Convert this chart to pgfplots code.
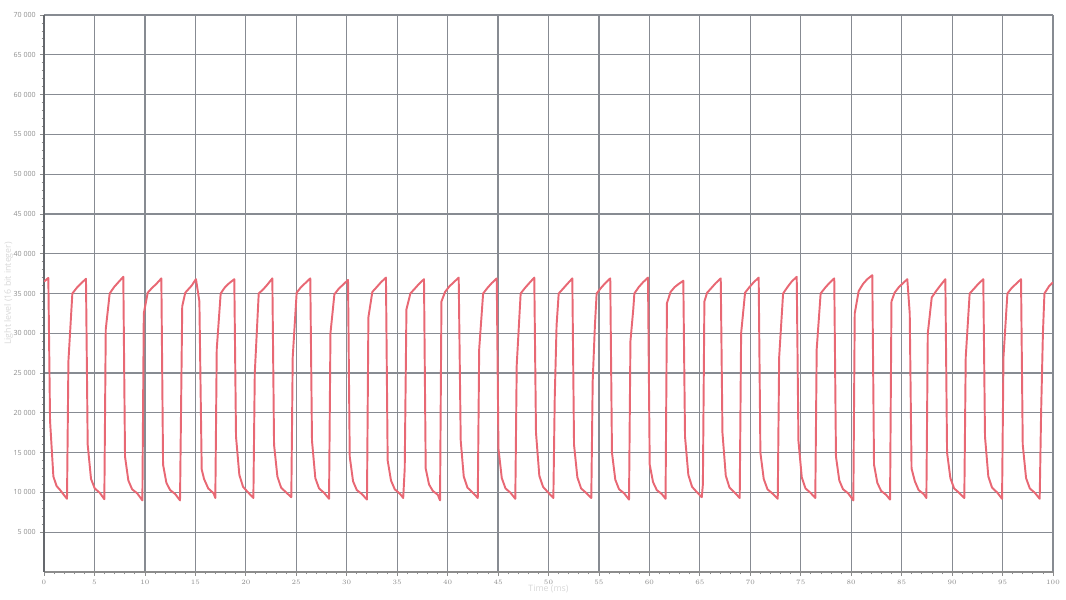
\documentclass[border=0pt]{standalone}
\usepackage{pgfplots}
\pgfplotsset{compat=1.18}
\usepackage{fontspec}
\setmainfont{Open Sans}
\definecolor{linered}{RGB}{232,104,116}
\definecolor{gridc}{RGB}{135,139,146}
\definecolor{tickc}{RGB}{140,140,140}
\definecolor{labc}{RGB}{215,215,215}
\begin{document}
\begin{tikzpicture}
\begin{axis}[
  scale only axis, width=756.75pt, height=417.75pt,
  xmin=0, xmax=100, ymin=0, ymax=70000,
  axis x line*=bottom, axis y line*=left,
  x axis line style={draw=tickc, line width=0.8pt},
  y axis line style={draw=gridc!75!black, line width=1.2pt},
  xtick={0,5,...,100},
  ytick={5000,10000,15000,20000,25000,30000,35000,40000,45000,50000,55000,60000,65000,70000},
  yticklabels={5 000,10 000,15 000,20 000,25 000,30 000,35 000,40 000,45 000,50 000,55 000,60 000,65 000,70 000},
  minor x tick num=4, minor y tick num=4,
  tick align=outside, major tick length=3pt, minor tick length=1.8pt,
  tick style={draw=tickc, line width=0.6pt},
  grid=major, major grid style={draw=gridc, line width=0.9pt},
  minor grid style={draw=none},
  ticklabel style={font=\fontsize{5.3}{6}\selectfont, text=tickc},
  xticklabel style={yshift=0.3pt},
  yticklabel style={xshift=0.3pt},
  xlabel={Time (ms)}, ylabel={Light level (16 bit integer)},
  label style={font=\fontsize{6.6}{8}\selectfont, text=labc},
  xlabel style={at={(axis description cs:0.5,-0.0311)}, anchor=center},
  ylabel style={at={(axis description cs:-0.0350,0.5)}, anchor=center},
]
\addplot[linered, line width=1.45pt, line join=round, mark=none] coordinates {
(0,36500) (0.43,36950) (0.6,19000) (0.93,12000) (1.25,10800) (1.6,10300) (1.9,9800)
(2.28,9200) (2.42,26500) (2.81,35000) (3.24,35700) (3.66,36250) (4.16,36850) (4.33,16000) (4.66,11700) (5.03,10500) (5.53,9950)
(5.98,9150) (6.12,30500) (6.51,35000) (6.94,35800) (7.36,36400) (7.86,37100) (8.03,14500) (8.36,11500) (8.73,10400) (9.23,9900)
(9.75,9000) (9.89,32500) (10.28,35100) (10.71,35700) (11.13,36200) (11.63,36900) (11.8,13500) (12.13,11200) (12.5,10300) (13.0,9800)
(13.48,9000) (13.7,33400) (14.0,35100) (14.64,36000) (15.06,36800) (15.4,34000) (15.63,12900) (15.86,11700) (16.28,10500) (16.8,9900)
(16.98,9300) (17.12,28000) (17.51,35000) (17.94,35800) (18.36,36300) (18.86,36800) (19.03,17000) (19.36,12200) (19.73,10700) (20.23,10000)
(20.75,9300) (20.89,25000) (21.28,35000) (21.71,35500) (22.13,36100) (22.63,36900) (22.8,16000) (23.13,12000) (23.5,10600) (24.0,10000)
(24.51,9400) (24.65,27000) (25.04,35100) (25.47,35800) (25.89,36300) (26.39,36900) (26.56,16500) (26.89,11800) (27.26,10500) (27.76,9950)
(28.25,9200) (28.39,30000) (28.78,34900) (29.21,35600) (29.63,36100) (30.13,36700) (30.3,14500) (30.63,11400) (31.0,10300) (31.5,9800)
(32.01,9100) (32.15,32000) (32.54,35200) (32.97,35800) (33.39,36400) (33.89,37000) (34.06,14000) (34.39,11500) (34.76,10400) (35.26,9850)
(35.6,9300) (35.75,13000) (35.92,33000) (36.31,35000) (36.74,35600) (37.16,36200) (37.66,36800) (37.83,13000) (38.16,11000) (38.53,10200) (39.03,9700)
(39.25,9000) (39.39,34000) (39.75,35200) (40.18,35900) (40.6,36400) (41.1,37000) (41.3,16500) (41.6,12000) (41.97,10600) (42.47,10000)
(42.99,9300) (43.13,28000) (43.52,35000) (43.95,35700) (44.37,36300) (44.87,36900) (45.04,15500) (45.37,11800) (45.74,10500) (46.24,9950)
(46.71,9200) (46.85,26000) (47.24,35000) (47.67,35700) (48.09,36300) (48.59,37000) (48.76,17500) (49.09,12100) (49.46,10700) (49.96,10000)
(50.48,9300) (50.62,22000) (50.8,31000) (51.01,35000) (51.44,35600) (51.86,36200) (52.36,36900) (52.53,16000) (52.86,11900) (53.23,10500) (53.73,9950)
(54.24,9300) (54.38,24000) (54.6,31000) (54.77,35000) (55.2,35700) (55.62,36300) (56.12,36900) (56.29,15000) (56.62,11600) (56.99,10400) (57.49,9900)
(57.98,9100) (58.12,29000) (58.4,33000) (58.51,35000) (58.94,35800) (59.36,36400) (59.86,37000) (60.03,13500) (60.36,11300) (60.73,10300) (61.23,9800)
(61.6,9200) (61.74,33800) (62.1,35200) (62.5,35800) (62.9,36200) (63.36,36600) (63.53,17000) (63.86,12200) (64.23,10700) (64.73,10000)
(65.19,9400) (65.3,11000) (65.45,34000) (65.72,35100) (66.15,35700) (66.57,36300) (67.07,36900) (67.24,17500) (67.57,12100) (67.94,10600) (68.44,10000)
(68.95,9300) (69.09,30000) (69.48,35100) (69.91,35800) (70.33,36400) (70.83,37000) (71.0,15000) (71.33,11700) (71.7,10400) (72.2,9850)
(72.72,9200) (72.86,27000) (73.25,35000) (73.68,35800) (74.1,36500) (74.6,37100) (74.77,16500) (75.1,11900) (75.47,10500) (75.97,9950)
(76.44,9300) (76.58,28000) (76.97,35000) (77.4,35700) (77.82,36300) (78.32,36900) (78.49,14500) (78.82,11500) (79.19,10400) (79.69,9900)
(80.21,9000) (80.35,32500) (80.74,35300) (81.17,36200) (81.59,36800) (82.09,37300) (82.26,13500) (82.59,11200) (82.96,10200) (83.46,9700)
(83.85,9100) (83.99,34000) (84.3,35100) (84.72,35800) (85.14,36300) (85.56,36800) (85.8,32500) (85.98,13000) (86.31,11400) (86.68,10300) (87.18,9800)
(87.45,9300) (87.59,30000) (87.98,34500) (88.41,35300) (88.83,36000) (89.33,36800) (89.5,15000) (89.83,11800) (90.2,10500) (90.7,9950)
(91.21,9300) (91.35,27000) (91.74,35000) (92.17,35600) (92.59,36200) (93.09,36800) (93.26,17000) (93.59,12000) (93.96,10600) (94.46,10000)
(94.95,9200) (95.09,27000) (95.48,35000) (95.91,35700) (96.33,36200) (96.83,36800) (97.0,16000) (97.33,11800) (97.7,10500) (98.2,9950)
(98.68,9200) (98.82,20000) (99.0,30000) (99.15,35000) (99.6,35900) (100,36400)
};
\end{axis}
\pgfresetboundingbox
\path[use as bounding box] ([shift={(-33pt,-20.625pt)}]current axis.south west) rectangle ([shift={(9.75pt,11.25pt)}]current axis.north east);
\end{tikzpicture}
\end{document}
